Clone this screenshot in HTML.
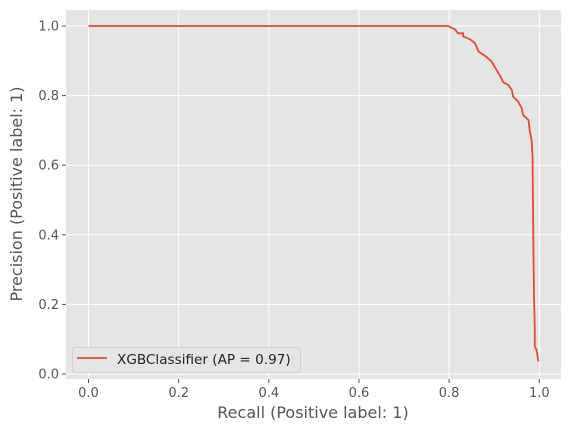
<!DOCTYPE html>
<html><head><meta charset="utf-8"><style>
body{margin:0;background:#fff;}
svg{display:block;font-family:"DejaVu Sans","Liberation Sans",sans-serif;}
</style></head><body>
<svg id="chart" width="571" height="436"></svg>
<script>
const recall=[0,0.798,0.813,0.820,0.831,0.831,0.846,0.857,0.865,0.883,0.894,0.905,0.913,0.920,0.931,0.939,0.942,0.953,0.961,0.964,0.976,0.979,0.983,0.985,0.987,0.988,0.990,0.990,0.994,0.998];
const precision=[1.0,1.0,0.990,0.979,0.979,0.970,0.962,0.951,0.927,0.911,0.898,0.874,0.857,0.838,0.831,0.816,0.797,0.783,0.764,0.744,0.730,0.697,0.672,0.625,0.357,0.242,0.127,0.079,0.069,0.036];
const xTicks=[0,0.2,0.4,0.6,0.8,1.0];
const yTicks=[0,0.2,0.4,0.6,0.8,1.0];
const ns="http://www.w3.org/2000/svg";
const svg=document.getElementById('chart');
const L=66,R=561,T=10,B=379;
const sx=v=>88.5+v*450.8, sy=v=>374-v*348;
function mk(t,a,p){const e=document.createElementNS(ns,t);for(const k in a)e.setAttribute(k,a[k]);(p||svg).appendChild(e);return e;}
const bg=mk('rect',{x:L,y:T,width:R-L,height:B-T,fill:'#e5e5e5'});


xTicks.forEach(v=>{
 const g=mk('line',{x1:sx(v),x2:sx(v),y1:T,y2:B,stroke:'#fff','stroke-width':1});
 
 
 mk('line',{x1:sx(v),x2:sx(v),y1:B,y2:B+4,stroke:'#555'});
 const t=mk('text',{x:sx(v),y:B+18,'text-anchor':'middle','font-size':13,fill:'#555'});
 t.textContent=v.toFixed(1);
 
 
});
yTicks.forEach(v=>{
 const g=mk('line',{x1:L,x2:R,y1:sy(v),y2:sy(v),stroke:'#fff','stroke-width':1});
 
 
 mk('line',{x1:L-4,x2:L,y1:sy(v),y2:sy(v),stroke:'#555'});
 const t=mk('text',{x:L-7,y:sy(v)+4.5,'text-anchor':'end','font-size':13,fill:'#555'});
 t.textContent=v.toFixed(1);
 
 
});
let pts=[];
for(let i=0;i<recall.length;i++){pts.push(sx(recall[i])+','+sy(precision[i]));}
const line=mk('polyline',{points:pts.join(' '),fill:'none',stroke:'#e24a33','stroke-width':1.8});


const xl=mk('text',{x:313,y:418,'text-anchor':'middle','font-size':16,fill:'#555'});
xl.textContent='Recall (Positive label: 1)';


const yl=mk('text',{x:22,y:194,'text-anchor':'middle','font-size':16,fill:'#555',transform:'rotate(-90 22 194)'});
yl.textContent='Precision (Positive label: 1)';


const lg=mk('g',{});


mk('rect',{x:72.5,y:347.5,width:228,height:25,rx:3,fill:'#e5e5e5',stroke:'#d0d0d0'},lg);
mk('line',{x1:77,x2:107,y1:358,y2:358,stroke:'#e24a33','stroke-width':1.8},lg);
const lt=mk('text',{x:117,y:364,'font-size':13.6,fill:'#222'},lg);
lt.textContent='XGBClassifier (AP = 0.97)';


</script>
</body></html>
